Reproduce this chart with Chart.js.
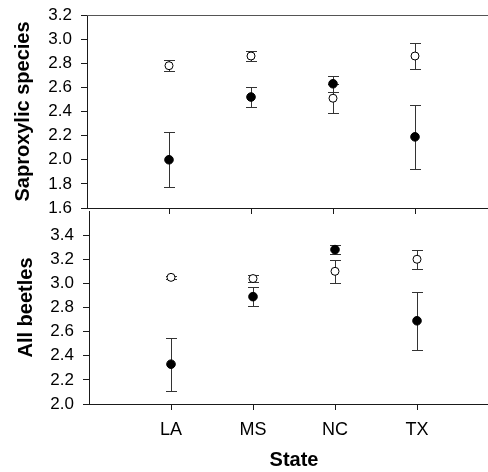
<!DOCTYPE html>
<html>
<head>
<meta charset="utf-8">
<script src="https://cdn.jsdelivr.net/npm/chart.js@4"></script>
<style>
  html, body { margin: 0; padding: 0; background: #fff; overflow: hidden; width: 488px; height: 472px; }
  #wrap { position: relative; width: 488px; height: 472px; overflow: hidden; }
  canvas { position: absolute; left: 0; }
  #c1 { top: 0; }
  #c2 { top: 196px; }
</style>
</head>
<body>
<div id="wrap">
  <canvas id="c2" width="520" height="276"></canvas>
  <canvas id="c1" width="520" height="216"></canvas>
</div>
<script>
// ---- data ----
const states = ['LA', 'MS', 'NC', 'TX'];

// Saproxylic species (top panel)
const saproOpenMean   = [2.78, 2.86, 2.51, 2.86];
const saproOpenErr    = [0.045, 0.045, 0.12, 0.11];
const saproFilledMean = [2.00, 2.52, 2.63, 2.19];
const saproFilledErr  = [0.23, 0.085, 0.065, 0.265];

// All beetles (bottom panel)
const allOpenMean   = [3.05, 3.04, 3.10, 3.20];
const allOpenErr    = [0.015, 0.03, 0.095, 0.08];
const allFilledMean = [2.33, 2.89, 3.28, 2.69];
const allFilledErr  = [0.22, 0.08, 0.04, 0.24];

const saproTicks = [1.6, 1.8, 2.0, 2.2, 2.4, 2.6, 2.8, 3.0, 3.2];
const allTicks   = [2.0, 2.2, 2.4, 2.6, 2.8, 3.0, 3.2, 3.4];

// ---- helpers ----
const AXIS = '#1a1a1a';
const BAR = '#333333';
const FONT = 'Liberation Sans, Arial, Helvetica, sans-serif';

const errorBars = {
  id: 'errorBars',
  beforeDatasetsDraw(chart) {
    const ctx = chart.ctx;
    const ys = chart.scales.y;
    ctx.save();
    ctx.strokeStyle = BAR;
    ctx.lineWidth = 1;
    chart.data.datasets.forEach((ds, i) => {
      const meta = chart.getDatasetMeta(i);
      meta.data.forEach((pt, j) => {
        const m = ds.data[j].y, e = ds.errors[j];
        const x = Math.round(pt.x) + 0.5;
        const yT = Math.round(ys.getPixelForValue(m + e)) + 0.5;
        const yB = Math.round(ys.getPixelForValue(m - e)) + 0.5;
        ctx.beginPath();
        ctx.moveTo(x, yT); ctx.lineTo(x, yB);
        ctx.moveTo(x - 5.5, yT); ctx.lineTo(x + 5.5, yT);
        ctx.moveTo(x - 5.5, yB); ctx.lineTo(x + 5.5, yB);
        ctx.stroke();
      });
    });
    ctx.restore();
  }
};

const topBorder = {
  id: 'topBorder',
  afterDraw(chart, args, opts) {
    if (!opts.show) return;
    const a = chart.chartArea, ctx = chart.ctx;
    ctx.save();
    ctx.strokeStyle = '#555';
    ctx.lineWidth = 1;
    ctx.beginPath();
    ctx.moveTo(a.left, Math.round(a.top) + 0.5);
    ctx.lineTo(a.right, Math.round(a.top) + 0.5);
    ctx.stroke();
    ctx.restore();
  }
};

function pts(vals) { return vals.map((v, i) => ({ x: i + 1, y: v })); }

function zeroPad(s) { s.paddingTop = 0; s.paddingBottom = 0; s.paddingLeft = 0; s.paddingRight = 0; }

function makeChart(id, cfg) {
  return new Chart(document.getElementById(id), {
    type: 'scatter',
    data: {
      datasets: [
        {
          data: pts(cfg.filledMean), errors: cfg.filledErr,
          pointRadius: 4.3, pointBackgroundColor: '#000', pointBorderColor: '#000',
          pointBorderWidth: 1, showLine: false
        },
        {
          data: pts(cfg.openMean), errors: cfg.openErr,
          pointRadius: 4, pointBackgroundColor: '#fff', pointBorderColor: '#000',
          pointBorderWidth: 1, showLine: false
        }
      ]
    },
    options: {
      responsive: false,
      animation: false,
      devicePixelRatio: 1,
      layout: { padding: cfg.padding },
      plugins: {
        legend: { display: false },
        tooltip: { enabled: false },
        topBorder: { show: cfg.topBorder }
      },
      scales: {
        x: {
          type: 'linear', min: 0, max: 5,
          afterBuildTicks: (s) => { s.ticks = states.map((_, i) => ({ value: i + 1 })); },
          afterFit: (s) => { s.height = cfg.xHeight; zeroPad(s); },
          grid: { display: true, drawOnChartArea: false, drawTicks: true, tickLength: 6, color: AXIS, lineWidth: 1 },
          border: { display: true, color: AXIS, width: 1 },
          ticks: {
            display: cfg.showX, padding: 9, color: '#000',
            font: { family: FONT, size: 18 },
            callback: (v) => states[v - 1] || ''
          },
          title: {
            display: cfg.showX, text: 'State', color: '#000',
            font: { family: FONT, size: 20, weight: 'bold' },
            padding: { top: 0, bottom: 0 }
          }
        },
        y: {
          type: 'linear', min: cfg.yMin, max: cfg.yMax,
          afterBuildTicks: (s) => { s.ticks = cfg.yTicks.map(v => ({ value: v })); },
          afterFit: (s) => { s.width = 87; zeroPad(s); },
          grid: { display: true, drawOnChartArea: false, drawTicks: true, tickLength: 6, color: AXIS, lineWidth: 1 },
          border: { display: true, color: AXIS, width: 1 },
          ticks: {
            padding: 9, color: '#000',
            font: { family: FONT, size: 17 },
            callback: (v) => Number(v).toFixed(1)
          },
          title: {
            display: true, text: cfg.yTitle, color: '#000',
            font: { family: FONT, size: 20, weight: 'bold' },
            padding: { top: cfg.yTitlePad, bottom: 0 }
          }
        }
      }
    },
    plugins: [errorBars, topBorder]
  });
}

makeChart('c1', {
  openMean: saproOpenMean, openErr: saproOpenErr,
  filledMean: saproFilledMean, filledErr: saproFilledErr,
  yMin: 1.6, yMax: 3.2, yTicks: saproTicks, yTitle: 'Saproxylic species',
  yTitlePad: 11, padding: { top: 15, left: 0, right: 23, bottom: 0 },
  xHeight: 8, showX: false, topBorder: true
});

makeChart('c2', {
  openMean: allOpenMean, openErr: allOpenErr,
  filledMean: allFilledMean, filledErr: allFilledErr,
  yMin: 2.0, yMax: 3.6, yTicks: allTicks, yTitle: 'All beetles',
  yTitlePad: 12, padding: { top: 15, left: 2, right: 21, bottom: 0 },
  xHeight: 68, showX: true, topBorder: false
});
</script>
</body>
</html>
